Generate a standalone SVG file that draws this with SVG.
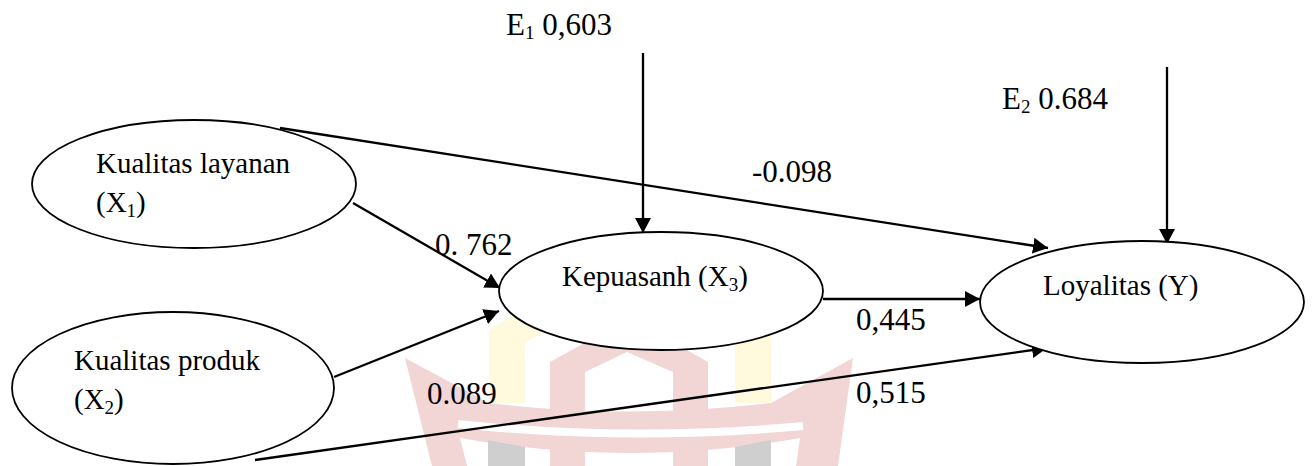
<svg xmlns="http://www.w3.org/2000/svg" width="1313" height="466" viewBox="0 0 1313 466">
<style>
.node{fill:#fff;stroke:#000;stroke-width:1.8}
.t{font-family:"Liberation Serif","Times New Roman",serif;font-size:29px;fill:#000}
.l{font-family:"Liberation Serif","Times New Roman",serif;font-size:31px;fill:#000}
.sub{font-size:19px}
.edge{stroke:#000;stroke-width:2.3;fill:none}
.pk{fill:#f2d5d5}
.yl{fill:#fffadd}
.gr{fill:#cfcfcf}
</style>
<defs>
<marker id="ah" markerUnits="userSpaceOnUse" markerWidth="16" markerHeight="16" refX="15" refY="8" orient="auto">
<path d="M0,0 L15,8 L0,16 Z" fill="#000"/>
</marker>
</defs>
<rect width="1313" height="466" fill="#fff"/>
<g id="watermark">
<path class="yl" d="M489,403 L489,330 L630,245 L771,330 L771,403 Z"/>
<path fill="#fff" d="M525,403 L525,343 L630,280 L735,343 L735,403 Z"/>
<path class="pk" d="M550,466 L550,362 L630,318 L708,362 L708,466 Z"/>
<path fill="#fff" d="M585,412 L585,372 L627,352 L673,372 L673,412 Z"/>
<path class="pk" d="M405,358 L489,403 Q630,420 771,403 L853,358 L838,466 L432,466 Z"/>
<path d="M458,424 Q630,442 803,426" stroke="#fff" stroke-width="8" fill="none"/>
<path fill="#fff" d="M460,438 Q630,468 800,438 L796,466 L467,466 Z"/>
<rect class="pk" x="550" y="448" width="35" height="18"/>
<rect class="pk" x="673" y="448" width="35" height="18"/>
<path class="gr" d="M488,440 L525,447 L525,466 L488,466 Z"/>
<path class="gr" d="M735,447 L771,440 L771,466 L735,466 Z"/>
</g>
<g id="connectors">
<line class="edge" x1="280" y1="128" x2="1048" y2="248" marker-end="url(#ah)"/>
<line class="edge" x1="255" y1="460" x2="1047" y2="348" marker-end="url(#ah)"/>
<line class="edge" x1="353" y1="203" x2="500" y2="288" marker-end="url(#ah)"/>
<line class="edge" x1="334" y1="377" x2="499" y2="311" marker-end="url(#ah)"/>
<line class="edge" x1="823" y1="299" x2="980" y2="299" marker-end="url(#ah)"/>
<line class="edge" x1="643" y1="53" x2="643" y2="233" marker-end="url(#ah)"/>
<line class="edge" x1="1167" y1="67" x2="1167" y2="244" marker-end="url(#ah)"/>
</g>
<g id="x1">
<ellipse class="node" cx="194" cy="184" rx="162" ry="64"/>
<text class="t" x="96" y="173">Kualitas layanan</text>
<text class="t" x="96" y="212">(X<tspan class="sub" dy="5">1</tspan><tspan dy="-5">)</tspan></text>
</g>
<g id="x2">
<ellipse class="node" cx="173" cy="388" rx="161" ry="76"/>
<text class="t" x="74" y="370">Kualitas produk</text>
<text class="t" x="74" y="409">(X<tspan class="sub" dy="5">2</tspan><tspan dy="-5">)</tspan></text>
</g>
<g id="x3">
<ellipse class="node" cx="661" cy="291" rx="162" ry="59"/>
<text class="t" x="562" y="286">Kepuasanh (X<tspan class="sub" dy="5">3</tspan><tspan dy="-5">)</tspan></text>
</g>
<g id="y">
<ellipse class="node" cx="1142" cy="302" rx="162" ry="61"/>
<text class="t" x="1043" y="295">Loyalitas (Y)</text>
</g>
<g id="labels">
<text class="l" x="506" y="35">E<tspan class="sub" dy="4">1</tspan><tspan dy="-4"> 0,603</tspan></text>
<text class="l" x="1002" y="109">E<tspan class="sub" dy="4">2</tspan><tspan dy="-4"> 0.684</tspan></text>
<text class="l" x="752" y="182">-0.098</text>
<text class="l" x="435" y="255">0. 762</text>
<text class="l" x="856" y="330">0,445</text>
<text class="l" x="427" y="404">0.089</text>
<text class="l" x="856" y="403">0,515</text>
</g>
</svg>
